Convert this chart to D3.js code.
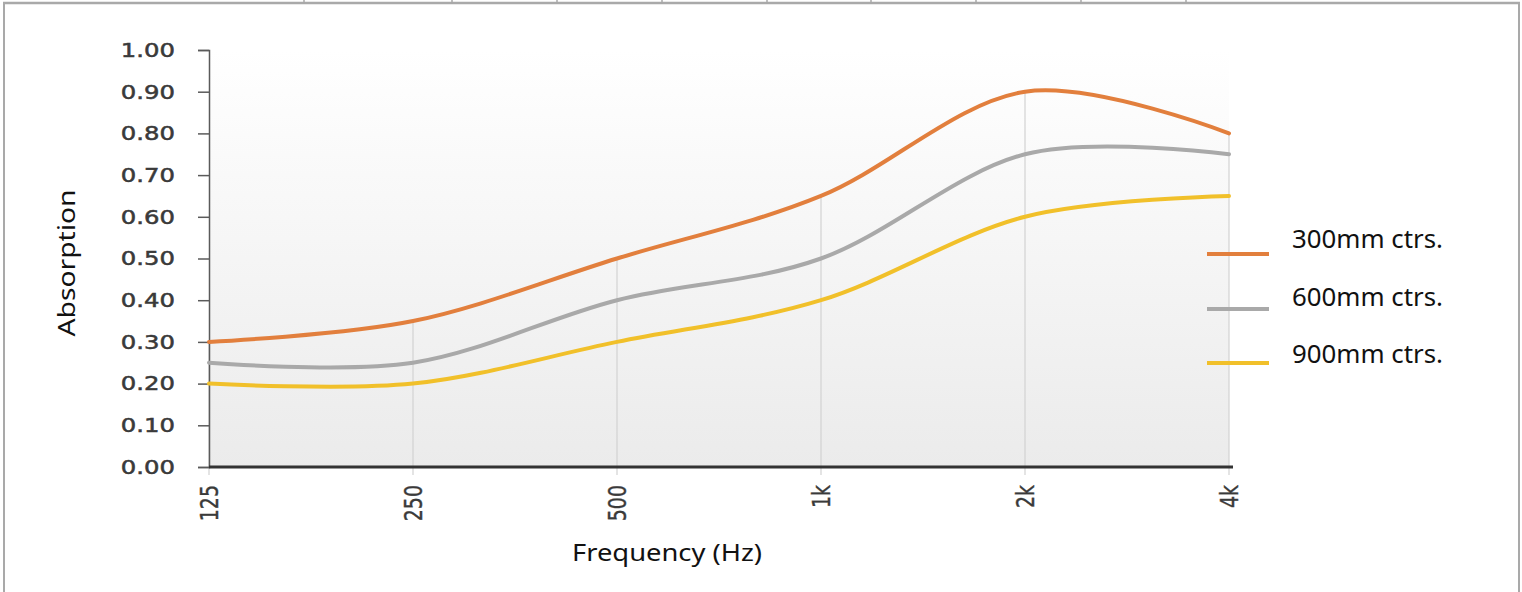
<!DOCTYPE html>
<html>
<head>
<meta charset="utf-8">
<script src="https://cdn.jsdelivr.net/npm/d3@7"></script>
<style>
  body { margin:0; background:#fff; }
  svg { display:block; }
</style>
</head>
<body>
<svg id="chart"></svg>
<script>
// frequency bands and absorption values
var bands = ["125","250","500","1k","2k","4k"];
var ctrs300 = [0.30,0.35,0.50,0.65,0.90,0.80];
var ctrs600 = [0.25,0.25,0.40,0.50,0.75,0.75];
var ctrs900 = [0.20,0.20,0.30,0.40,0.60,0.65];
var seriesNames = ["300mm ctrs.","600mm ctrs.","900mm ctrs."];
var yTicks = [0,0.1,0.2,0.3,0.4,0.5,0.6,0.7,0.8,0.9,1.0];

var colors = ["#e27f3d","#a9a9a9","#f1c02a"];

var screen = {width:1522, height:592};
var plot = {left:209, right:1229, top:50, bottom:467};

var svg = d3.select("#chart")
    .attr("width",screen.width)
    .attr("height",screen.height)

// outer frame, looks like a table cell
var frame = svg.append("g")
frame.append("line").attr("x1",3).attr("x2",1520).attr("y1",3).attr("y2",3)
    .attr("stroke","#a9a9a9").attr("stroke-width",2.5)
frame.append("line").attr("x1",4).attr("x2",4).attr("y1",3).attr("y2",592)
    .attr("stroke","#a9a9a9").attr("stroke-width",2)
frame.append("line").attr("x1",1519).attr("x2",1519).attr("y1",3).attr("y2",592)
    .attr("stroke","#a9a9a9").attr("stroke-width",2)
var cellEdges = [304,452,557,662,767,871,976,1081,1186];
frame.selectAll(".edge")
    .data(cellEdges)
    .enter()
    .append("line")
    .attr("x1",function(d){return d;})
    .attr("x2",function(d){return d;})
    .attr("y1",0).attr("y2",4)
    .attr("stroke","#a9a9a9").attr("stroke-width",1.5)

var xScale = d3.scalePoint()
    .domain(bands)
    .range([plot.left,plot.right])

var yScale = d3.scaleLinear()
    .domain([0,1])
    .range([plot.bottom,plot.top])

// plot background gradient
var defs = svg.append("defs");
var grad = defs.append("linearGradient")
    .attr("id","bg").attr("x1",0).attr("y1",0).attr("x2",0).attr("y2",1)
grad.append("stop").attr("offset","0%").attr("stop-color","#ffffff")
grad.append("stop").attr("offset","100%").attr("stop-color","#ebebeb")

svg.append("rect")
    .attr("x",plot.left)
    .attr("y",plot.top)
    .attr("width",plot.right-plot.left)
    .attr("height",plot.bottom-plot.top)
    .attr("fill","url(#bg)")

var allSeries = [ctrs300,ctrs600,ctrs900];

// drop lines from the axis up to the top series
svg.append("g")
    .selectAll("line")
    .data(bands)
    .enter()
    .append("line")
    .attr("x1",function(b){return xScale(b);})
    .attr("x2",function(b){return xScale(b);})
    .attr("y1",plot.bottom+8)
    .attr("y2",function(b,i)
    {
        return yScale(d3.max(allSeries,function(s){return s[i];}));
    })
    .attr("stroke","#d2d2d2")
    .attr("stroke-width",1.2)

// y axis
var yAxis = d3.axisLeft(yScale)
    .tickValues(yTicks)
    .tickSize(11)
    .tickPadding(0)
    .tickFormat(d3.format(".2f"))

var yg = svg.append("g")
    .attr("transform","translate("+plot.left+",0)")
    .call(yAxis)
yg.select(".domain").attr("stroke","#5a5a5a").attr("stroke-width",1.5)
yg.selectAll(".tick line").attr("stroke","#5a5a5a").attr("stroke-width",1.5)
yg.selectAll(".tick text").remove()

svg.append("g")
    .selectAll("text")
    .data(yTicks)
    .enter()
    .append("text")
    .text(function(d){return d3.format(".2f")(d);})
    .attr("transform",function(d)
    {
        return "translate(175,"+yScale(d)+") scale(1.28,1)";
    })
    .attr("text-anchor","end")
    .attr("dy","0.36em")
    .attr("font-family","DejaVu Sans")
    .attr("font-size",19)
    .attr("fill","#3a3a3a")
    .attr("stroke","#3a3a3a")
    .attr("stroke-width",0.5)

// x axis line
svg.append("line")
    .attr("x1",plot.left)
    .attr("x2",plot.right+4)
    .attr("y1",plot.bottom)
    .attr("y2",plot.bottom)
    .attr("stroke","#333")
    .attr("stroke-width",3)

svg.append("g")
    .selectAll("text")
    .data(bands)
    .enter()
    .append("text")
    .text(function(b){return b;})
    .attr("transform",function(b)
    {
        return "translate("+xScale(b)+",485) scale(1.28,1) rotate(-90)";
    })
    .attr("text-anchor","end")
    .attr("dy","0.36em")
    .attr("font-family","DejaVu Sans")
    .attr("font-size",19)
    .attr("fill","#3a3a3a")
    .attr("stroke","#3a3a3a")
    .attr("stroke-width",0.3)

// lines
var lineGenerator = d3.line()
    .x(function(v,i){return xScale(bands[i]);})
    .y(function(v){return yScale(v);})
    .curve(d3.curveCardinal.tension(0))

svg.append("g")
    .selectAll("path")
    .data(allSeries)
    .enter()
    .append("path")
    .attr("d",lineGenerator)
    .attr("fill","none")
    .attr("stroke",function(s,i){return colors[i];})
    .attr("stroke-width",4)
    .attr("stroke-linecap","round")

// axis titles
svg.append("text")
    .text("Absorption")
    .attr("transform","translate(75,263) rotate(-90)")
    .attr("text-anchor","middle")
    .attr("font-family","Noto Sans")
    .attr("font-size",24)
    .attr("textLength",147)
    .attr("lengthAdjust","spacingAndGlyphs")
    .attr("fill","#111")

svg.append("text")
    .text("Frequency (Hz)")
    .attr("x",667)
    .attr("y",561)
    .attr("text-anchor","middle")
    .attr("font-family","Noto Sans")
    .attr("font-size",23)
    .attr("textLength",190)
    .attr("lengthAdjust","spacingAndGlyphs")
    .attr("fill","#111")

// legend
var legendLineY = [254,309,363];
var legendTextY = [248,306,363];
var legend = svg.append("g")
legend.append("rect")
    .attr("x",1273).attr("y",215).attr("width",227).attr("height",165)
    .attr("fill","#fff")
legend.selectAll("line")
    .data(seriesNames)
    .enter()
    .append("line")
    .attr("x1",1207).attr("x2",1269)
    .attr("y1",function(n,i){return legendLineY[i];})
    .attr("y2",function(n,i){return legendLineY[i];})
    .attr("stroke",function(n,i){return colors[i];})
    .attr("stroke-width",4)
legend.selectAll("text")
    .data(seriesNames)
    .enter()
    .append("text")
    .text(function(n){return n;})
    .attr("x",1292)
    .attr("y",function(n,i){return legendTextY[i];})
    .attr("font-family","Noto Sans")
    .attr("font-size",25)
    .attr("textLength",151)
    .attr("lengthAdjust","spacingAndGlyphs")
    .attr("fill","#111")
</script>
</body>
</html>
